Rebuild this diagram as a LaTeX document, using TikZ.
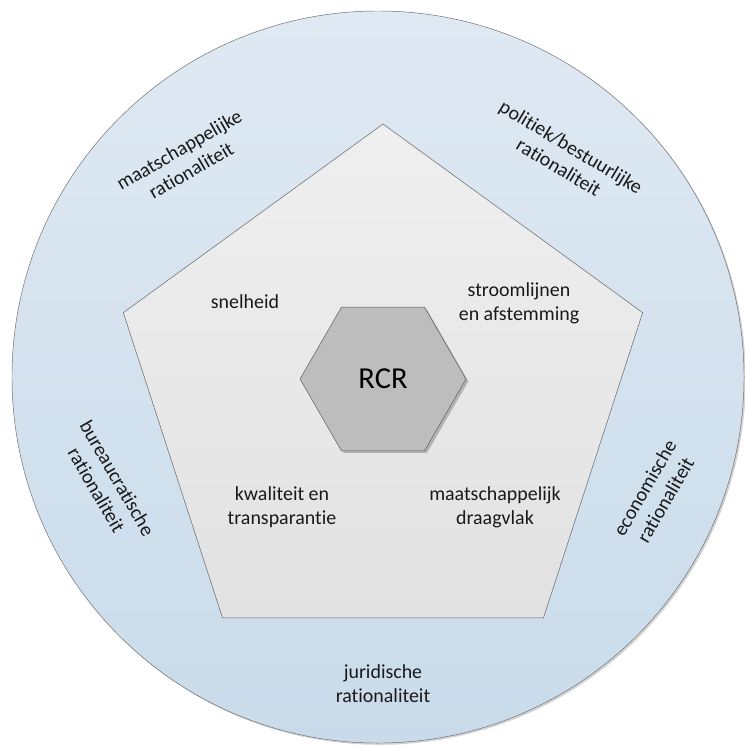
\documentclass[tikz,border=0pt]{standalone}
\usepackage{fontspec}
\setmainfont[Ligatures=NoCommon]{Carlito}
\usetikzlibrary{shapes.geometric}
\usetikzlibrary{shadows}
\usetikzlibrary{positioning}
\definecolor{ringtop}{HTML}{DFE9F3}
\definecolor{ringbot}{HTML}{C9DBEA}
\definecolor{pentop}{HTML}{EFEFEF}
\definecolor{penbot}{HTML}{E2E2E2}
\definecolor{hexfill}{HTML}{BDBDBD}
\tikzset{ring/.style = {circle, draw=gray!85!black, inner sep = 0, outer sep = 0,
                        top color=ringtop, bottom color=ringbot, minimum size = 21.96cm,
                        drop shadow={shadow xshift=1.5pt, shadow yshift=-1.5pt, opacity=0.35}}}
\tikzset{penta/.style = {regular polygon, regular polygon sides=5, draw=gray!75!black,
                         inner sep = 0, outer sep = 0, top color=pentop, bottom color=penbot,
                         minimum size = 16.38cm}}
\tikzset{hexa/.style = {regular polygon, regular polygon sides=6, draw=gray!70!black,
                        inner sep = 0, outer sep = 0, fill=hexfill, minimum size = 4.98cm,
                        drop shadow={shadow xshift=2pt, shadow yshift=-2pt, opacity=0.5},
                        font=\fontsize{26}{30}\selectfont}}
\tikzset{lbl/.style = {align=center, inner sep = 0, text=black!90,
                       font=\fontsize{17}{20.4}\selectfont}}

\begin{document}
\begin{tikzpicture}[x=0.03cm, y=-0.03cm]
      \useasboundingbox (0, 0) rectangle (744, 747);

      \node (ring) [ring] at (378, 377) {};
      \node (penta) [penta] at (383, 397) {};
      \node (rcr) [hexa] at (383, 379) {RCR};

      % binnenste ring
      \node (snel) [lbl] at (245, 302) {snelheid};
      \node (stroom) [lbl] at (519, 303) {stroomlijnen\\en afstemming};
      \node (kwal) [lbl] at (282, 507) {kwaliteit en\\transparantie};
      \node (draag) [lbl] at (495, 507) {maatschappelijk\\draagvlak};

      % buitenste ring
      \node (maat) [lbl, rotate=30] at (185, 160) {maatschappelijke\\rationaliteit};
      \node (polit) [lbl, rotate=-31] at (565, 157) {politiek/bestuurlijke\\rationaliteit};
      \node (bureau) [lbl, rotate=-60] at (107, 484) {bureaucratische\\rationaliteit};
      \node (econ) [lbl, rotate=60] at (655, 494) {economische\\rationaliteit};
      \node (jurid) [lbl] at (383, 684) {juridische\\rationaliteit};
    \end{tikzpicture}
\end{document}
